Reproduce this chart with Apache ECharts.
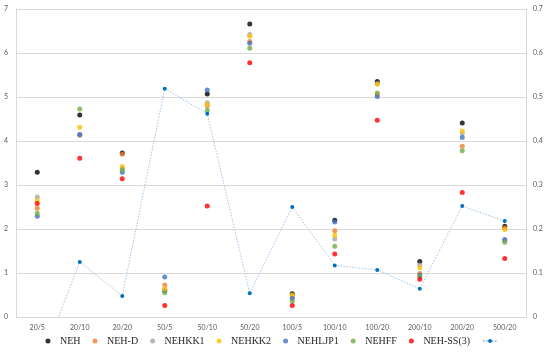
<!DOCTYPE html>
<html><head><meta charset="utf-8">
<script src="https://cdn.jsdelivr.net/npm/echarts@6/dist/echarts.min.js"></script>
<style>html,body{margin:0;padding:0;background:#fff}#c{width:550px;height:354px}</style>
</head><body><div id="c"></div>
<script>
const categories = ['20/5','20/10','20/20','50/5','50/10','50/20','100/5','100/10','100/20','200/10','200/20','500/20'];
const leftTicks = [0,1,2,3,4,5,6,7];
const rightTicks = [0,0.1,0.2,0.3,0.4,0.5,0.6,0.7];
const NEH      = [3.29, 4.59, 3.73, 0.60, 5.07, 6.66, 0.53, 2.20, 5.35, 1.26, 4.41, 2.06];
const NEH_D    = [2.47, 4.13, 3.70, 0.73, 4.80, 6.26, 0.48, 1.96, 5.05, 0.99, 3.88, 2.02];
const NEHKK1   = [2.73, 4.15, 3.38, 0.62, 4.87, 6.42, 0.45, 1.77, 5.30, 1.18, 4.17, 1.74];
const NEHKK2   = [2.65, 4.31, 3.42, 0.64, 4.83, 6.38, 0.50, 1.86, 5.29, 1.12, 4.23, 1.99];
const NEHLJP1  = [2.29, 4.15, 3.29, 0.91, 5.16, 6.22, 0.42, 2.16, 5.01, 0.95, 4.08, 1.76];
const NEHFF    = [2.36, 4.73, 3.34, 0.55, 4.70, 6.11, 0.36, 1.61, 5.09, 0.92, 3.78, 1.70];
const NEH_SS3  = [2.58, 3.61, 3.14, 0.26, 2.52, 5.78, 0.26, 1.43, 4.47, 0.86, 2.83, 1.33];
const lineVals = [-0.125, 0.125, 0.048, 0.519, 0.462, 0.054, 0.25, 0.117, 0.107, 0.064, 0.252, 0.218];

const scatterDefs = [
  ['NEH', NEH, '#000000'],
  ['NEH-D', NEH_D, '#ED7D31'],
  ['NEHKK1', NEHKK1, '#A5A5A5'],
  ['NEHKK2', NEHKK2, '#FFC000'],
  ['NEHLJP1', NEHLJP1, '#4472C4'],
  ['NEHFF', NEHFF, '#70AD47'],
  ['NEH-SS(3)', NEH_SS3, '#FF0000']
];
const series = scatterDefs.map(d => ({
  name: d[0], type: 'scatter', data: d[1], symbol: 'circle', symbolSize: 5,
  itemStyle: {color: d[2]}, yAxisIndex: 0
}));
series.push({
  name: ' ', type: 'line', data: lineVals, yAxisIndex: 1, symbol: 'circle', symbolSize: 4,
  showSymbol: true, clip: true,
  itemStyle: {color: '#0070C0'},
  lineStyle: {color: '#9DC3E6', width: 1, type: [1.5, 1.5]}
});
const axisLabel = {color: '#595959', fontSize: 7, fontFamily: 'Lato'};
const chart = echarts.init(document.getElementById('c'), null, {renderer: 'canvas'});
chart.setOption({
  animation: false,
  backgroundColor: '#fff',
  grid: {left: 16, right: 24, top: 9, bottom: 37, containLabel: false},
  xAxis: {
    type: 'category', data: categories, boundaryGap: true,
    axisLine: {show: true, lineStyle: {color: '#D9D9D9'}},
    axisTick: {show: false},
    axisLabel: Object.assign({margin: 7}, axisLabel)
  },
  yAxis: [
    {type: 'value', min: leftTicks[0], max: leftTicks[leftTicks.length-1], interval: 1,
     axisLine: {show: true, lineStyle: {color: '#D9D9D9'}}, axisTick: {show: false},
     splitLine: {lineStyle: {color: '#D9D9D9', width: 1}},
     axisLabel: Object.assign({margin: 8}, axisLabel)},
    {type: 'value', min: rightTicks[0], max: rightTicks[rightTicks.length-1], interval: 0.1,
     axisLine: {show: true, lineStyle: {color: '#D9D9D9'}}, axisTick: {show: false},
     splitLine: {show: false},
     axisLabel: Object.assign({margin: 7, formatter: v => String(Math.round(v*10)/10)}, axisLabel)}
  ],
  legend: {
    bottom: 3, left: 'center', itemGap: 12, itemWidth: 14, itemHeight: 5,
    textStyle: {fontFamily: 'Liberation Serif', fontSize: 10, color: '#262626'},
    data: scatterDefs.map(d => ({name: d[0], icon: 'circle'})).concat([{name: ' ', itemWidth: 22}])
  },
  series: series
});
</script></body></html>
